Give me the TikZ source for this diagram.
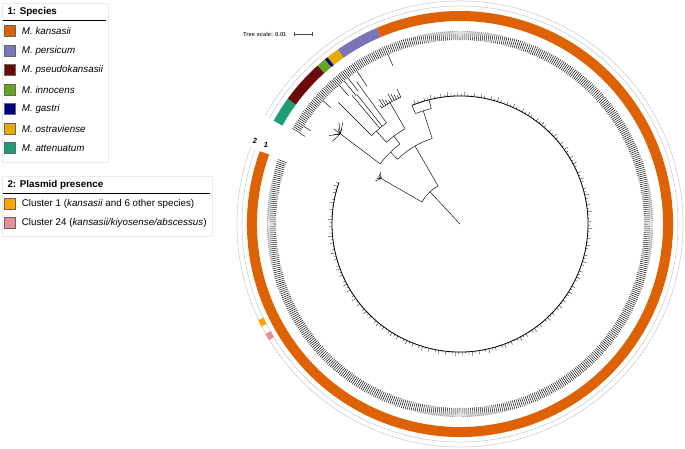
\documentclass[tikz,border=0pt]{standalone}
\usepackage{fontspec}
\setmainfont{Liberation Sans}
\usetikzlibrary{positioning}
\definecolor{kans}{HTML}{DE6104}
\definecolor{pers}{HTML}{7A74B8}
\definecolor{pseu}{HTML}{6B0A0A}
\definecolor{inno}{HTML}{66A61E}
\definecolor{gast}{HTML}{000080}
\definecolor{ostr}{HTML}{E6AB02}
\definecolor{atte}{HTML}{1B9E77}
\definecolor{clone}{HTML}{FFA500}
\definecolor{cltwo}{HTML}{E8909A}

\begin{document}
\begin{tikzpicture}[x=1pt, y=1pt, font=\fontsize{9.8}{11}\selectfont]
    \tikzstyle{swatch} = [draw=black!60, minimum size=11pt, inner sep=0pt]
    \tikzstyle{entry} = [right=6pt, inner sep=0pt, anchor=west]
    \tikzstyle{legbox} = [draw=black!8, line width=0.6pt]
    \tikzstyle{band} = [line width=10pt]
    \tikzstyle{branch} = [line width=0.45pt]
    \useasboundingbox (0,0) rectangle (685,-449);
    \coordinate (c) at (460,-224);

    % legend 1
    \draw[legbox] (2,-3) rectangle (108,-162);
    \node[anchor=west, font=\fontsize{9.8}{11}\selectfont\bfseries] (t1) at (4,-12) {1: Species};
    \draw[line width=0.7pt] (3,-20) -- (106,-20);
    \foreach \col/\name [count=\i] in {kans/kansasii, pers/persicum,
        pseu/pseudokansasii, inno/innocens, gast/gastri,
        ostr/ostraviense, atte/attenuatum} {
        \node[swatch, fill=\col] (s\i) at (10,{-31-19.5*(\i-1)}) {};
        \node[entry] (l\i) at (s\i.east) {\itshape M. \name};
    }

    % legend 2
    \draw[legbox] (2,-176) rectangle (212,-236);
    \node[anchor=west, font=\fontsize{9.8}{11}\selectfont\bfseries] (t2) at (4,-185) {2: Plasmid presence};
    \draw[line width=0.7pt] (3,-193) -- (210,-193);
    \node[swatch, fill=clone] (p1) at (10,-204) {};
    \node[entry] (q1) at (p1.east) {Cluster 1 (\textit{kansasii} and 6 other species)};
    \node[swatch, fill=cltwo] (p2) at (10,-223) {};
    \node[entry] (q2) at (p2.east) {Cluster 24 (\textit{kansasii/kiyosense/abscessus})};

    % tree scale
    \node[anchor=east, font=\fontsize{5.8}{6}\selectfont\bfseries, text=black!75] (ts) at (290,-34) {Tree scale: 0.01};
    \draw[black!70, line width=0.5pt] (294,-34) -- (312,-34)
        (294,-32) -- (294,-36) (312,-32) -- (312,-36);

    % ring labels
    \node[font=\fontsize{7.5}{8}\selectfont\bfseries\itshape] (r2) at (255,-141) {2};
    \node[font=\fontsize{7.5}{8}\selectfont\bfseries\itshape] (r1) at (266,-145) {1};

    % outer plasmid ring
    \foreach \r in {218,223}
        \draw[black!22, line width=0.5pt] ([shift={(c)}]-200:\r) arc[start angle=-200, end angle=151, radius=\r];
    \fill[clone] ([shift={(c)}]205.5:217.5) arc[start angle=205.5, end angle=207.3, radius=217.5]
        -- ([shift={(c)}]207.3:223.5) arc[start angle=207.3, end angle=205.5, radius=223.5] -- cycle;
    \fill[cltwo] ([shift={(c)}]209.5:217.5) arc[start angle=209.5, end angle=211.3, radius=217.5]
        -- ([shift={(c)}]211.3:223.5) arc[start angle=211.3, end angle=209.5, radius=223.5] -- cycle;

    % species ring
    \foreach \col/\a/\b in {kans/-200/113, pers/113/125, ostr/125/128.5, gast/128.5/129.4,
        inno/129.4/132, pseu/132/144, atte/144/151}
        \draw[band, \col] ([shift={(c)}]\a:208) arc[start angle=\a, end angle=\b, radius=208];

    % leaf labels
    \foreach \a in {-199.5,-198.9,...,150.5}
        \draw[line width=0.45pt] ([shift={(c)}]\a:184) -- ([shift={(c)}]\a:193);
    \foreach \a/\r in {113/172, 124/166, 127.5/168, 129/165, 131/170, 138/174, 148/176, 150.5/178}
        \draw[branch] ([shift={(c)}]\a:\r) -- ([shift={(c)}]\a:184);

    % tree
    \draw[branch] (c) -- ([shift={(c)}]133:44);
    \draw[branch] ([shift={(c)}]120:44) arc[start angle=120, end angle=150, radius=44];
    \draw[branch] ([shift={(c)}]150:44) -- ([shift={(c)}]150:91);
    \foreach \a in {147,148.5,...,153}
        \draw[branch] ([shift={(c)}]150:91) -- ([shift={(c)}]\a:95);
    \draw[branch] ([shift={(c)}]120:44) -- ([shift={(c)}]120:90);
    \draw[branch] ([shift={(c)}]108:90) arc[start angle=108, end angle=134, radius=90];
    \draw[branch] ([shift={(c)}]108:90) -- ([shift={(c)}]108:119);
    \draw[branch] ([shift={(c)}]104:119) arc[start angle=104, end angle=112, radius=119];
    \draw[branch] ([shift={(c)}]112:119) -- ([shift={(c)}]112:128);
    \draw[branch] ([shift={(c)}]104:119) -- ([shift={(c)}]104:128);
    \draw[line width=0.8pt] ([shift={(c)}]112:128) arc[start angle=112, end angle=-199, radius=128];
    \foreach \a [count=\i] in {-198.5,-197,...,111}
        \draw[line width=0.3pt] ([shift={(c)}]\a:128) -- ([shift={(c)}]\a:{129+mod(\i*7,5)*0.8});
    \draw[branch] ([shift={(c)}]134:90) -- ([shift={(c)}]134:100);
    \draw[branch] ([shift={(c)}]127:100) arc[start angle=127, end angle=143, radius=100];
    \draw[branch] ([shift={(c)}]143:100) -- ([shift={(c)}]143:150);
    \foreach \a in {139,140,...,147}
        \draw[branch] ([shift={(c)}]143:150) -- ([shift={(c)}]\a:{152+mod(\a,3)*3});
    \draw[branch] ([shift={(c)}]127:100) -- ([shift={(c)}]127:110);
    \draw[branch] ([shift={(c)}]120:110) arc[start angle=120, end angle=132, radius=110];
    \draw[branch] ([shift={(c)}]132:110) -- ([shift={(c)}]132:125);
    \draw[branch] ([shift={(c)}]126:125) arc[start angle=126, end angle=135, radius=125];
    \foreach \a/\r in {126/176, 128.5/166, 130/168, 135/172}
        \draw[branch] ([shift={(c)}]\a:125) -- ([shift={(c)}]\a:\r);
    \draw[branch] ([shift={(c)}]120:110) -- ([shift={(c)}]120:140);
    \draw[branch] ([shift={(c)}]115:140) arc[start angle=115, end angle=124, radius=140];
    \foreach \a in {115,116,...,124}
        \draw[branch] ([shift={(c)}]\a:140) -- ([shift={(c)}]\a:{143+mod(\a,4)*2});
\end{tikzpicture}
\end{document}
